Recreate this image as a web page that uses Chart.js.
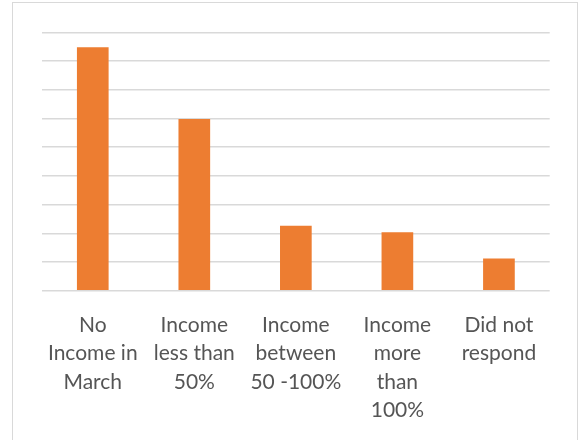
<!DOCTYPE html>
<html>
<head>
<meta charset="utf-8">
<script src="https://cdn.jsdelivr.net/npm/chart.js@4.4.1/dist/chart.umd.min.js"></script>
<style>
  body { margin: 0; background: #fff; }
  #frame { position: absolute; left: 12px; top: 2px; width: 566px; height: 445px; border: 1.5px solid #d9d9d9; box-sizing: border-box; }
  #wrap { position: absolute; left: 0; top: 0; width: 579px; height: 440px; }
</style>
</head>
<body>
<div id="frame"></div>
<div id="wrap"><canvas id="incomeChart" width="579" height="440"></canvas></div>
<script>
// response categories (multi-line like the original axis)
const categories = [
  ["No", "Income in", "March"],
  ["Income", "less than", "50%"],
  ["Income", "between", "50 -100%"],
  ["Income", "more", "than", "100%"],
  ["Did not", "respond"]
];
// share of respondents (%)
const shares = [42.4, 29.9, 11.3, 10.2, 5.6];
const yMax = 45;
const yStep = 5;

let ctx = document.getElementById("incomeChart").getContext('2d');
let incomeChart = new Chart(ctx, {
  type: 'bar',
  data: {
    labels: categories,
    datasets: [{
      data: shares,
      backgroundColor: '#ED7D31',
      borderWidth: 0,
      barPercentage: 0.312,
      categoryPercentage: 1
    }]
  },
  options: {
    responsive: false,
    animation: false,
    layout: { padding: { left: 42, right: 29.3, top: 32.3, bottom: 0 } },
    plugins: { legend: { display: false }, tooltip: { enabled: false } },
    scales: {
      x: {
        grid: { display: false },
        border: { display: false },
        ticks: {
          color: '#555555',
          padding: 12,
          maxRotation: 0,
          autoSkip: false,
          font: { family: 'Lato', size: 21, lineHeight: 1.357 }
        },
        afterFit: function(scale) { scale.height = 440 - 290.7; }
      },
      y: {
        min: 0,
        max: yMax,
        ticks: { display: false, stepSize: yStep },
        border: { display: false },
        grid: { color: '#d9d9d9', lineWidth: 1.4, drawTicks: false },
        afterFit: function(scale) { scale.width = 0; }
      }
    }
  }
});
</script>
</body>
</html>
